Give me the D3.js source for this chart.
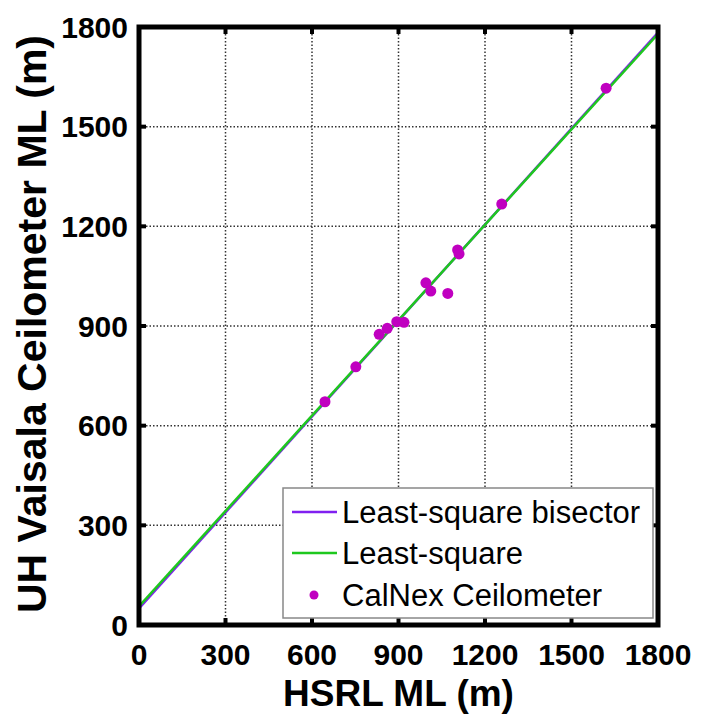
<!DOCTYPE html>
<html>
<head>
<meta charset="utf-8">
<script src="https://cdn.jsdelivr.net/npm/d3@7"></script>
<style>
  body { margin: 0; background: #fff; }
  svg { display: block; font-family: "Liberation Sans", Arial, sans-serif; }
</style>
</head>
<body>
<div id="plot"></div>
<script>
// Axis ticks
const xTicks = [0, 300, 600, 900, 1200, 1500, 1800];
const yTicks = [0, 300, 600, 900, 1200, 1500, 1800];

// CalNex ceilometer points (HSRL ML vs UH Vaisala ML, metres)
const hsrlML = [645, 752, 833, 861, 894, 919, 995, 1012, 1071, 1105, 1110, 1258, 1620];
const ceilML = [672, 777, 875, 893, 913, 911, 1030, 1005, 998, 1129, 1117, 1267, 1616];

// Fit lines, end points
const fitX = [0, 1800];
const bisectorY = [50, 1783];
const leastSqY = [56, 1779];

const legendLabels = ['Least-square bisector', 'Least-square', 'CalNex Ceilometer'];

const W = 701, H = 715;
const box = {left: 139, right: 658, top: 27, bottom: 625};
const purple = '#8020f0', green = '#1ec81e', magenta = '#c000c0';

const svg = d3.select('#plot').append('svg')
  .attr('width', W)
  .attr('height', H);

const x = d3.scaleLinear().domain([0, 1800]).range([box.left, box.right]);
const y = d3.scaleLinear().domain([0, 1800]).range([box.bottom, box.top]);

// Dotted grid
const grid = svg.append('g')
  .attr('stroke', '#333')
  .attr('stroke-width', 1.5)
  .attr('stroke-dasharray', '1.5,2');
grid.selectAll('line.vx')
  .data(xTicks.slice(1, -1))
  .enter().append('line')
    .attr('x1', d => x(d)).attr('x2', d => x(d))
    .attr('y1', box.top).attr('y2', box.bottom);
grid.selectAll('line.hy')
  .data(yTicks.slice(1, -1))
  .enter().append('line')
    .attr('y1', d => y(d)).attr('y2', d => y(d))
    .attr('x1', box.left).attr('x2', box.right);

// Fit lines
const line = d3.line().x(d => x(d[0])).y(d => y(d[1]));
svg.append('path')
  .datum(fitX.map((v, i) => [v, bisectorY[i]]))
  .attr('d', line)
  .attr('fill', 'none')
  .attr('stroke', purple)
  .attr('stroke-width', 2.5);
svg.append('path')
  .datum(fitX.map((v, i) => [v, leastSqY[i]]))
  .attr('d', line)
  .attr('fill', 'none')
  .attr('stroke', green)
  .attr('stroke-width', 2.5);

// Points
svg.append('g')
  .selectAll('circle')
  .data(hsrlML.map((v, i) => [v, ceilML[i]]))
  .enter().append('circle')
    .attr('cx', d => x(d[0]))
    .attr('cy', d => y(d[1]))
    .attr('r', 5.5)
    .attr('fill', magenta);

// Inward ticks on all sides
const ticks = svg.append('g').attr('stroke', '#000').attr('stroke-width', 4);
xTicks.forEach(t => {
  ticks.append('line').attr('x1', x(t)).attr('x2', x(t)).attr('y1', box.bottom).attr('y2', box.bottom - 7);
  ticks.append('line').attr('x1', x(t)).attr('x2', x(t)).attr('y1', box.top).attr('y2', box.top + 7);
});
yTicks.forEach(t => {
  ticks.append('line').attr('y1', y(t)).attr('y2', y(t)).attr('x1', box.left).attr('x2', box.left + 7);
  ticks.append('line').attr('y1', y(t)).attr('y2', y(t)).attr('x1', box.right).attr('x2', box.right - 7);
});

// Frame
svg.append('rect')
  .attr('x', box.left).attr('y', box.top)
  .attr('width', box.right - box.left)
  .attr('height', box.bottom - box.top)
  .attr('fill', 'none')
  .attr('stroke', '#000')
  .attr('stroke-width', 5);

// Tick labels
svg.append('g')
  .selectAll('text')
  .data(xTicks)
  .enter().append('text')
    .attr('x', d => x(d))
    .attr('y', 665)
    .attr('text-anchor', 'middle')
    .attr('font-size', 30)
    .attr('font-weight', 'bold')
    .text(d => d);
svg.append('g')
  .selectAll('text')
  .data(yTicks)
  .enter().append('text')
    .attr('x', 128)
    .attr('y', d => y(d))
    .attr('dy', '0.36em')
    .attr('text-anchor', 'end')
    .attr('font-size', 30)
    .attr('font-weight', 'bold')
    .text(d => d);

// Axis titles
svg.append('text')
  .attr('x', (box.left + box.right) / 2)
  .attr('y', 706)
  .attr('text-anchor', 'middle')
  .attr('font-size', 37)
  .attr('font-weight', 'bold')
  .text('HSRL ML (m)');
svg.append('text')
  .attr('transform', `translate(46,${(box.top + box.bottom) / 2 - 2}) rotate(-90)`)
  .attr('text-anchor', 'middle')
  .attr('font-size', 41)
  .attr('font-weight', 'bold')
  .text('UH Vaisala Ceilometer ML (m)');

// Legend
const lg = svg.append('g').attr('transform', 'translate(283,488)');
lg.append('rect')
  .attr('width', 370).attr('height', 130)
  .attr('fill', '#fff')
  .attr('stroke', '#888')
  .attr('stroke-width', 1.5);
const rowY = [24, 65, 107];
lg.append('line').attr('x1', 9).attr('x2', 54).attr('y1', rowY[0]).attr('y2', rowY[0])
  .attr('stroke', purple).attr('stroke-width', 2.5);
lg.append('line').attr('x1', 9).attr('x2', 54).attr('y1', rowY[1]).attr('y2', rowY[1])
  .attr('stroke', green).attr('stroke-width', 2.5);
lg.append('circle').attr('cx', 31).attr('cy', rowY[2]).attr('r', 4.5).attr('fill', magenta);
lg.selectAll('text.lab')
  .data(legendLabels)
  .enter().append('text')
    .attr('x', 59)
    .attr('y', (d, i) => rowY[i])
    .attr('dy', '0.36em')
    .attr('font-size', 31)
    .text(d => d);
</script>
</body>
</html>
